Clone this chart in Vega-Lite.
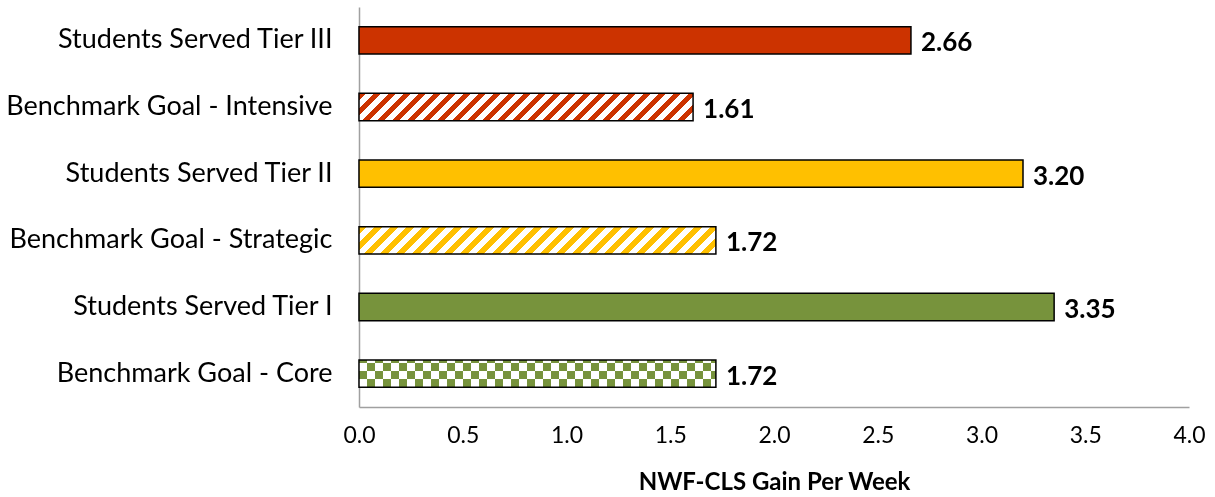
{
  "$schema": "https://vega.github.io/schema/vega-lite/v6.json",
  "width": 830,
  "height": 400,
  "autosize": {"type": "none"},
  "padding": {"left": 359, "top": 7, "right": 26, "bottom": 90},
  "background": "#FFFFFF",
  "config": {
    "view": {"stroke": null},
    "font": "Lato"
  },
  "data": {
    "values": [
      {"label": "Students Served Tier III", "value": 2.66},
      {"label": "Benchmark Goal - Intensive", "value": 1.61},
      {"label": "Students Served Tier II", "value": 3.20},
      {"label": "Benchmark Goal - Strategic", "value": 1.72},
      {"label": "Students Served Tier I", "value": 3.35},
      {"label": "Benchmark Goal - Core", "value": 1.72}
    ]
  },
  "encoding": {
    "y": {
      "field": "label",
      "type": "nominal",
      "sort": ["Students Served Tier III", "Benchmark Goal - Intensive", "Students Served Tier II", "Benchmark Goal - Strategic", "Students Served Tier I", "Benchmark Goal - Core"],
      "title": null,
      "scale": {"paddingInner": 0.59, "paddingOuter": 0.295},
      "axis": {
        "ticks": false,
        "labelFont": "Lato",
        "labelFontSize": 27,
        "labelColor": "#000000",
        "labelPadding": 27,
        "labelLimit": 400,
        "domainColor": "#A0A0A0",
        "domainWidth": 1.5
      }
    },
    "x": {
      "field": "value",
      "type": "quantitative",
      "scale": {"domain": [0, 4], "nice": false},
      "title": "NWF-CLS Gain Per Week",
      "axis": {
        "values": [0, 0.5, 1, 1.5, 2, 2.5, 3, 3.5, 4],
        "format": ".1f",
        "grid": false,
        "ticks": false,
        "labelFont": "Lato",
        "labelFontSize": 23,
        "labelColor": "#000000",
        "labelPadding": 17,
        "labelFlush": false,
        "domainColor": "#A0A0A0",
        "domainWidth": 1.5,
        "titleFont": "Lato",
        "titleFontSize": 24,
        "titleFontWeight": "bold",
        "titleColor": "#000000",
        "titlePadding": 23
      }
    }
  },
  "layer": [
    {
      "transform": [{"filter": "indexof(datum.label, 'Students') === 0"}],
      "mark": {"type": "bar"},
      "encoding": {
        "color": {
          "field": "label",
          "type": "nominal",
          "scale": {
            "domain": ["Students Served Tier III", "Students Served Tier II", "Students Served Tier I"],
            "range": ["#CC3300", "#FFC000", "#77933C"]
          },
          "legend": null
        }
      }
    },
    {
      "transform": [{"filter": "datum.label === 'Benchmark Goal - Intensive'"}],
      "mark": {
        "type": "bar",
        "fill": {
          "gradient": "linear", "x1": 0, "y1": 0, "x2": 1.115, "y2": 0.0911,
          "stops": [
{"offset":0,"color":"#CC3300"},{"offset":0.02,"color":"#CC3300"},{"offset":0.02,"color":"#FFFFFF"},{"offset":0.04,"color":"#FFFFFF"},
{"offset":0.04,"color":"#CC3300"},{"offset":0.06,"color":"#CC3300"},{"offset":0.06,"color":"#FFFFFF"},{"offset":0.08,"color":"#FFFFFF"},
{"offset":0.08,"color":"#CC3300"},{"offset":0.1,"color":"#CC3300"},{"offset":0.1,"color":"#FFFFFF"},{"offset":0.12,"color":"#FFFFFF"},
{"offset":0.12,"color":"#CC3300"},{"offset":0.14,"color":"#CC3300"},{"offset":0.14,"color":"#FFFFFF"},{"offset":0.16,"color":"#FFFFFF"},
{"offset":0.16,"color":"#CC3300"},{"offset":0.18,"color":"#CC3300"},{"offset":0.18,"color":"#FFFFFF"},{"offset":0.2,"color":"#FFFFFF"},
{"offset":0.2,"color":"#CC3300"},{"offset":0.22,"color":"#CC3300"},{"offset":0.22,"color":"#FFFFFF"},{"offset":0.24,"color":"#FFFFFF"},
{"offset":0.24,"color":"#CC3300"},{"offset":0.26,"color":"#CC3300"},{"offset":0.26,"color":"#FFFFFF"},{"offset":0.28,"color":"#FFFFFF"},
{"offset":0.28,"color":"#CC3300"},{"offset":0.3,"color":"#CC3300"},{"offset":0.3,"color":"#FFFFFF"},{"offset":0.32,"color":"#FFFFFF"},
{"offset":0.32,"color":"#CC3300"},{"offset":0.34,"color":"#CC3300"},{"offset":0.34,"color":"#FFFFFF"},{"offset":0.36,"color":"#FFFFFF"},
{"offset":0.36,"color":"#CC3300"},{"offset":0.38,"color":"#CC3300"},{"offset":0.38,"color":"#FFFFFF"},{"offset":0.4,"color":"#FFFFFF"},
{"offset":0.4,"color":"#CC3300"},{"offset":0.42,"color":"#CC3300"},{"offset":0.42,"color":"#FFFFFF"},{"offset":0.44,"color":"#FFFFFF"},
{"offset":0.44,"color":"#CC3300"},{"offset":0.46,"color":"#CC3300"},{"offset":0.46,"color":"#FFFFFF"},{"offset":0.48,"color":"#FFFFFF"},
{"offset":0.48,"color":"#CC3300"},{"offset":0.5,"color":"#CC3300"},{"offset":0.5,"color":"#FFFFFF"},{"offset":0.52,"color":"#FFFFFF"},
{"offset":0.52,"color":"#CC3300"},{"offset":0.54,"color":"#CC3300"},{"offset":0.54,"color":"#FFFFFF"},{"offset":0.56,"color":"#FFFFFF"},
{"offset":0.56,"color":"#CC3300"},{"offset":0.58,"color":"#CC3300"},{"offset":0.58,"color":"#FFFFFF"},{"offset":0.6,"color":"#FFFFFF"},
{"offset":0.6,"color":"#CC3300"},{"offset":0.62,"color":"#CC3300"},{"offset":0.62,"color":"#FFFFFF"},{"offset":0.64,"color":"#FFFFFF"},
{"offset":0.64,"color":"#CC3300"},{"offset":0.66,"color":"#CC3300"},{"offset":0.66,"color":"#FFFFFF"},{"offset":0.68,"color":"#FFFFFF"},
{"offset":0.68,"color":"#CC3300"},{"offset":0.7,"color":"#CC3300"},{"offset":0.7,"color":"#FFFFFF"},{"offset":0.72,"color":"#FFFFFF"},
{"offset":0.72,"color":"#CC3300"},{"offset":0.74,"color":"#CC3300"},{"offset":0.74,"color":"#FFFFFF"},{"offset":0.76,"color":"#FFFFFF"},
{"offset":0.76,"color":"#CC3300"},{"offset":0.78,"color":"#CC3300"},{"offset":0.78,"color":"#FFFFFF"},{"offset":0.8,"color":"#FFFFFF"},
{"offset":0.8,"color":"#CC3300"},{"offset":0.82,"color":"#CC3300"},{"offset":0.82,"color":"#FFFFFF"},{"offset":0.84,"color":"#FFFFFF"},
{"offset":0.84,"color":"#CC3300"},{"offset":0.86,"color":"#CC3300"},{"offset":0.86,"color":"#FFFFFF"},{"offset":0.88,"color":"#FFFFFF"},
{"offset":0.88,"color":"#CC3300"},{"offset":0.9,"color":"#CC3300"},{"offset":0.9,"color":"#FFFFFF"},{"offset":0.92,"color":"#FFFFFF"},
{"offset":0.92,"color":"#CC3300"},{"offset":0.94,"color":"#CC3300"},{"offset":0.94,"color":"#FFFFFF"},{"offset":0.96,"color":"#FFFFFF"},
{"offset":0.96,"color":"#CC3300"},{"offset":0.98,"color":"#CC3300"},{"offset":0.98,"color":"#FFFFFF"},{"offset":1,"color":"#FFFFFF"}
          ]
        }
      }
    },
    {
      "transform": [{"filter": "datum.label === 'Benchmark Goal - Strategic'"}],
      "mark": {
        "type": "bar",
        "fill": {
          "gradient": "linear", "x1": 0, "y1": 0, "x2": 1.1142, "y2": 0.0852,
          "stops": [
{"offset":0,"color":"#FFC000"},{"offset":0.02,"color":"#FFC000"},{"offset":0.02,"color":"#FFFFFF"},{"offset":0.04,"color":"#FFFFFF"},
{"offset":0.04,"color":"#FFC000"},{"offset":0.06,"color":"#FFC000"},{"offset":0.06,"color":"#FFFFFF"},{"offset":0.08,"color":"#FFFFFF"},
{"offset":0.08,"color":"#FFC000"},{"offset":0.1,"color":"#FFC000"},{"offset":0.1,"color":"#FFFFFF"},{"offset":0.12,"color":"#FFFFFF"},
{"offset":0.12,"color":"#FFC000"},{"offset":0.14,"color":"#FFC000"},{"offset":0.14,"color":"#FFFFFF"},{"offset":0.16,"color":"#FFFFFF"},
{"offset":0.16,"color":"#FFC000"},{"offset":0.18,"color":"#FFC000"},{"offset":0.18,"color":"#FFFFFF"},{"offset":0.2,"color":"#FFFFFF"},
{"offset":0.2,"color":"#FFC000"},{"offset":0.22,"color":"#FFC000"},{"offset":0.22,"color":"#FFFFFF"},{"offset":0.24,"color":"#FFFFFF"},
{"offset":0.24,"color":"#FFC000"},{"offset":0.26,"color":"#FFC000"},{"offset":0.26,"color":"#FFFFFF"},{"offset":0.28,"color":"#FFFFFF"},
{"offset":0.28,"color":"#FFC000"},{"offset":0.3,"color":"#FFC000"},{"offset":0.3,"color":"#FFFFFF"},{"offset":0.32,"color":"#FFFFFF"},
{"offset":0.32,"color":"#FFC000"},{"offset":0.34,"color":"#FFC000"},{"offset":0.34,"color":"#FFFFFF"},{"offset":0.36,"color":"#FFFFFF"},
{"offset":0.36,"color":"#FFC000"},{"offset":0.38,"color":"#FFC000"},{"offset":0.38,"color":"#FFFFFF"},{"offset":0.4,"color":"#FFFFFF"},
{"offset":0.4,"color":"#FFC000"},{"offset":0.42,"color":"#FFC000"},{"offset":0.42,"color":"#FFFFFF"},{"offset":0.44,"color":"#FFFFFF"},
{"offset":0.44,"color":"#FFC000"},{"offset":0.46,"color":"#FFC000"},{"offset":0.46,"color":"#FFFFFF"},{"offset":0.48,"color":"#FFFFFF"},
{"offset":0.48,"color":"#FFC000"},{"offset":0.5,"color":"#FFC000"},{"offset":0.5,"color":"#FFFFFF"},{"offset":0.52,"color":"#FFFFFF"},
{"offset":0.52,"color":"#FFC000"},{"offset":0.54,"color":"#FFC000"},{"offset":0.54,"color":"#FFFFFF"},{"offset":0.56,"color":"#FFFFFF"},
{"offset":0.56,"color":"#FFC000"},{"offset":0.58,"color":"#FFC000"},{"offset":0.58,"color":"#FFFFFF"},{"offset":0.6,"color":"#FFFFFF"},
{"offset":0.6,"color":"#FFC000"},{"offset":0.62,"color":"#FFC000"},{"offset":0.62,"color":"#FFFFFF"},{"offset":0.64,"color":"#FFFFFF"},
{"offset":0.64,"color":"#FFC000"},{"offset":0.66,"color":"#FFC000"},{"offset":0.66,"color":"#FFFFFF"},{"offset":0.68,"color":"#FFFFFF"},
{"offset":0.68,"color":"#FFC000"},{"offset":0.7,"color":"#FFC000"},{"offset":0.7,"color":"#FFFFFF"},{"offset":0.72,"color":"#FFFFFF"},
{"offset":0.72,"color":"#FFC000"},{"offset":0.74,"color":"#FFC000"},{"offset":0.74,"color":"#FFFFFF"},{"offset":0.76,"color":"#FFFFFF"},
{"offset":0.76,"color":"#FFC000"},{"offset":0.78,"color":"#FFC000"},{"offset":0.78,"color":"#FFFFFF"},{"offset":0.8,"color":"#FFFFFF"},
{"offset":0.8,"color":"#FFC000"},{"offset":0.82,"color":"#FFC000"},{"offset":0.82,"color":"#FFFFFF"},{"offset":0.84,"color":"#FFFFFF"},
{"offset":0.84,"color":"#FFC000"},{"offset":0.86,"color":"#FFC000"},{"offset":0.86,"color":"#FFFFFF"},{"offset":0.88,"color":"#FFFFFF"},
{"offset":0.88,"color":"#FFC000"},{"offset":0.9,"color":"#FFC000"},{"offset":0.9,"color":"#FFFFFF"},{"offset":0.92,"color":"#FFFFFF"},
{"offset":0.92,"color":"#FFC000"},{"offset":0.94,"color":"#FFC000"},{"offset":0.94,"color":"#FFFFFF"},{"offset":0.96,"color":"#FFFFFF"},
{"offset":0.96,"color":"#FFC000"},{"offset":0.98,"color":"#FFC000"},{"offset":0.98,"color":"#FFFFFF"},{"offset":1,"color":"#FFFFFF"}
          ]
        }
      }
    },
    {
      "transform": [{"filter": "datum.label === 'Benchmark Goal - Core'"}],
      "mark": {
        "type": "bar",
        "fill": {
          "gradient": "linear", "x1": 0, "y1": 0, "x2": 1.1208, "y2": 0,
          "stops": [
{"offset":0,"color":"#000000"},{"offset":0.02,"color":"#000000"},{"offset":0.02,"color":"#FFFFFF"},{"offset":0.04,"color":"#FFFFFF"},
{"offset":0.04,"color":"#000000"},{"offset":0.06,"color":"#000000"},{"offset":0.06,"color":"#FFFFFF"},{"offset":0.08,"color":"#FFFFFF"},
{"offset":0.08,"color":"#000000"},{"offset":0.1,"color":"#000000"},{"offset":0.1,"color":"#FFFFFF"},{"offset":0.12,"color":"#FFFFFF"},
{"offset":0.12,"color":"#000000"},{"offset":0.14,"color":"#000000"},{"offset":0.14,"color":"#FFFFFF"},{"offset":0.16,"color":"#FFFFFF"},
{"offset":0.16,"color":"#000000"},{"offset":0.18,"color":"#000000"},{"offset":0.18,"color":"#FFFFFF"},{"offset":0.2,"color":"#FFFFFF"},
{"offset":0.2,"color":"#000000"},{"offset":0.22,"color":"#000000"},{"offset":0.22,"color":"#FFFFFF"},{"offset":0.24,"color":"#FFFFFF"},
{"offset":0.24,"color":"#000000"},{"offset":0.26,"color":"#000000"},{"offset":0.26,"color":"#FFFFFF"},{"offset":0.28,"color":"#FFFFFF"},
{"offset":0.28,"color":"#000000"},{"offset":0.3,"color":"#000000"},{"offset":0.3,"color":"#FFFFFF"},{"offset":0.32,"color":"#FFFFFF"},
{"offset":0.32,"color":"#000000"},{"offset":0.34,"color":"#000000"},{"offset":0.34,"color":"#FFFFFF"},{"offset":0.36,"color":"#FFFFFF"},
{"offset":0.36,"color":"#000000"},{"offset":0.38,"color":"#000000"},{"offset":0.38,"color":"#FFFFFF"},{"offset":0.4,"color":"#FFFFFF"},
{"offset":0.4,"color":"#000000"},{"offset":0.42,"color":"#000000"},{"offset":0.42,"color":"#FFFFFF"},{"offset":0.44,"color":"#FFFFFF"},
{"offset":0.44,"color":"#000000"},{"offset":0.46,"color":"#000000"},{"offset":0.46,"color":"#FFFFFF"},{"offset":0.48,"color":"#FFFFFF"},
{"offset":0.48,"color":"#000000"},{"offset":0.5,"color":"#000000"},{"offset":0.5,"color":"#FFFFFF"},{"offset":0.52,"color":"#FFFFFF"},
{"offset":0.52,"color":"#000000"},{"offset":0.54,"color":"#000000"},{"offset":0.54,"color":"#FFFFFF"},{"offset":0.56,"color":"#FFFFFF"},
{"offset":0.56,"color":"#000000"},{"offset":0.58,"color":"#000000"},{"offset":0.58,"color":"#FFFFFF"},{"offset":0.6,"color":"#FFFFFF"},
{"offset":0.6,"color":"#000000"},{"offset":0.62,"color":"#000000"},{"offset":0.62,"color":"#FFFFFF"},{"offset":0.64,"color":"#FFFFFF"},
{"offset":0.64,"color":"#000000"},{"offset":0.66,"color":"#000000"},{"offset":0.66,"color":"#FFFFFF"},{"offset":0.68,"color":"#FFFFFF"},
{"offset":0.68,"color":"#000000"},{"offset":0.7,"color":"#000000"},{"offset":0.7,"color":"#FFFFFF"},{"offset":0.72,"color":"#FFFFFF"},
{"offset":0.72,"color":"#000000"},{"offset":0.74,"color":"#000000"},{"offset":0.74,"color":"#FFFFFF"},{"offset":0.76,"color":"#FFFFFF"},
{"offset":0.76,"color":"#000000"},{"offset":0.78,"color":"#000000"},{"offset":0.78,"color":"#FFFFFF"},{"offset":0.8,"color":"#FFFFFF"},
{"offset":0.8,"color":"#000000"},{"offset":0.82,"color":"#000000"},{"offset":0.82,"color":"#FFFFFF"},{"offset":0.84,"color":"#FFFFFF"},
{"offset":0.84,"color":"#000000"},{"offset":0.86,"color":"#000000"},{"offset":0.86,"color":"#FFFFFF"},{"offset":0.88,"color":"#FFFFFF"},
{"offset":0.88,"color":"#000000"},{"offset":0.9,"color":"#000000"},{"offset":0.9,"color":"#FFFFFF"},{"offset":0.92,"color":"#FFFFFF"},
{"offset":0.92,"color":"#000000"},{"offset":0.94,"color":"#000000"},{"offset":0.94,"color":"#FFFFFF"},{"offset":0.96,"color":"#FFFFFF"},
{"offset":0.96,"color":"#000000"},{"offset":0.98,"color":"#000000"},{"offset":0.98,"color":"#FFFFFF"},{"offset":1,"color":"#FFFFFF"}
          ]
        }
      }
    },
    {
      "transform": [{"filter": "datum.label === 'Benchmark Goal - Core'"}],
      "mark": {
        "type": "bar",
        "blend": "difference",
        "fill": {
          "gradient": "linear", "x1": 0, "y1": -0.2, "x2": 0, "y2": 14.45,
          "stops": [
{"offset":0,"color":"#000000"},{"offset":0.02,"color":"#000000"},{"offset":0.02,"color":"#FFFFFF"},{"offset":0.04,"color":"#FFFFFF"},
{"offset":0.04,"color":"#000000"},{"offset":0.06,"color":"#000000"},{"offset":0.06,"color":"#FFFFFF"},{"offset":0.08,"color":"#FFFFFF"},
{"offset":0.08,"color":"#000000"},{"offset":0.1,"color":"#000000"},{"offset":0.1,"color":"#FFFFFF"},{"offset":0.12,"color":"#FFFFFF"}
          ]
        }
      }
    },
    {
      "transform": [{"filter": "datum.label === 'Benchmark Goal - Core'"}],
      "mark": {"type": "bar", "blend": "screen", "fill": "#77933C"}
    },
    {
      "mark": {"type": "bar", "fillOpacity": 0, "stroke": "#000000", "strokeWidth": 1.5}
    },
    {
      "mark": {
        "type": "text",
        "align": "left",
        "baseline": "middle",
        "dx": 10,
        "dy": 3,
        "font": "Lato",
        "fontSize": 26,
        "fontWeight": "bold",
        "color": "#000000"
      },
      "encoding": {
        "text": {"field": "value", "type": "quantitative", "format": ".2f"}
      }
    }
  ]
}
